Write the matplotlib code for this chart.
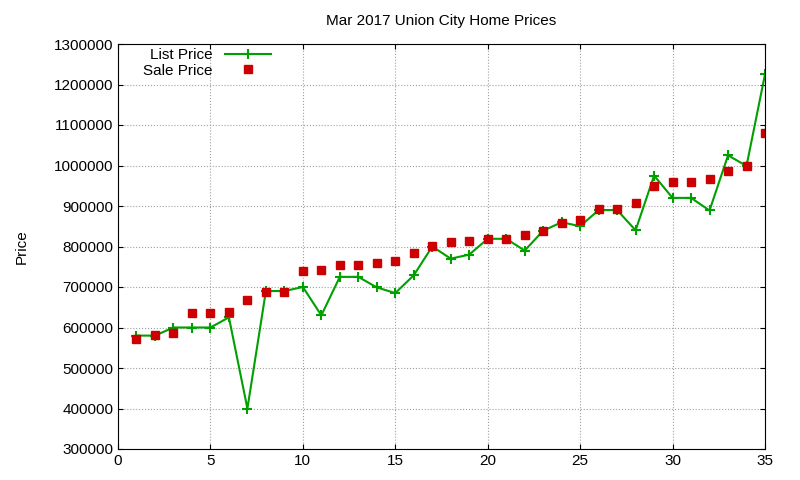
import matplotlib
matplotlib.use("Agg")
import matplotlib.pyplot as plt
from matplotlib.ticker import FuncFormatter

days = list(range(1, 36))
list_price = [580000, 580000, 600000, 600000, 600000, 625000, 400000, 690000, 690000, 700000,
              630000, 725000, 725000, 699000, 685000, 729000, 800000, 770000, 780000, 819000,
              819000, 790000, 839000, 860000, 850000, 890000, 890000, 840000, 975000, 920000,
              920000, 889000, 1025000, 999000, 1225000]
sale_price = [572000, 581000, 586000, 636000, 636000, 638000, 668000, 688000, 688000, 740000,
              742000, 754000, 754000, 759000, 764000, 784000, 801000, 811000, 814000, 819000,
              819000, 828000, 838000, 858000, 865000, 893000, 893000, 907000, 949000, 959000,
              959000, 967000, 986000, 999000, 1080000]

plt.rcParams["font.family"] = ["Liberation Sans", "DejaVu Sans"]
fig = plt.figure(figsize=(8, 4.8), dpi=100)
ax = fig.add_axes([118 / 800, 1 - 449 / 480, (765 - 118) / 800, (449 - 44) / 480])

ax.plot(days, list_price, color="#00a000", marker="+", markersize=7, markeredgewidth=1.5,
        linewidth=1.5, label="List Price")
ax.plot(days, sale_price, color="#cc0000", marker="s", markersize=5.5, linestyle="none",
        label="Sale Price")

ax.set_xlim(0, 35)
ax.set_ylim(300000, 1300000)
ax.set_xticks(range(0, 36, 5))
ax.set_yticks(range(300000, 1300001, 100000))
ax.yaxis.set_major_formatter(FuncFormatter(lambda v, p: f"{int(v)}"))
ax.tick_params(labelsize=11, direction="in", top=True, right=True)
ax.grid(True, color="#a0a0a0", linestyle=":", linewidth=0.8)
ax.set_ylabel("Price", fontsize=11, labelpad=18)
ax.set_title("Mar 2017 Union City Home Prices", fontsize=11, pad=14)
ax.legend(loc="upper left", frameon=False, markerfirst=False, fontsize=11,
          bbox_to_anchor=(0.02, 1.02), handlelength=3, borderpad=0.3, labelspacing=0.1)

fig.savefig("out.png", dpi=100, facecolor="white")
